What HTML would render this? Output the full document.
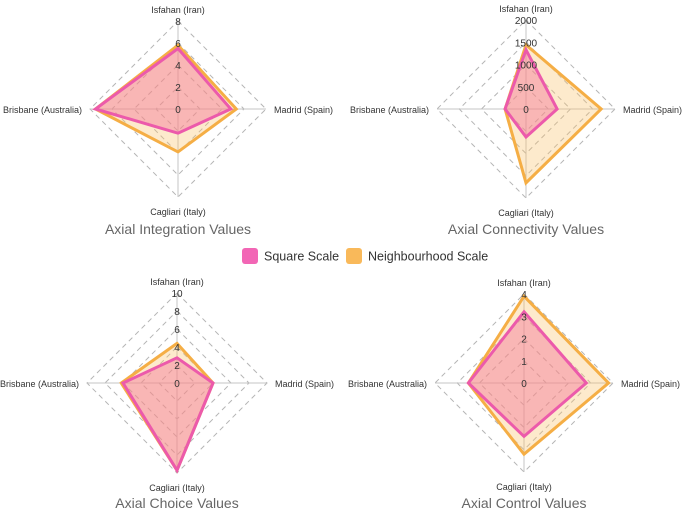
<!DOCTYPE html>
<html><head><meta charset="utf-8"><style>
html,body{margin:0;padding:0;background:#fff;}
svg{display:block;font-family:"Liberation Sans",sans-serif;}
</style></head><body>
<svg id="c" width="685" height="513" viewBox="0 0 685 513">
<g>
<g>
<rect x="242" y="248" width="16" height="16" rx="3" fill="#f266b5"/>
<text x="264" y="260.5" font-size="12.5" fill="#333">Square Scale</text></g>
<g>
<rect x="346" y="248" width="16" height="16" rx="3" fill="#f9b95a"/>
<text x="368" y="260.5" font-size="12.5" fill="#333">Neighbourhood Scale</text></g>
</g>
</svg>
<script>
const axes = ["Isfahan (Iran)","Madrid (Spain)","Cagliari (Italy)","Brisbane (Australia)"];
const titles = ["Axial Integration Values","Axial Connectivity Values","Axial Choice Values","Axial Control Values"];
const maxVals = [8,2000,10,4];
const ticks1 = [0,2,4,6,8];
const ticks2 = [0,500,1000,1500,2000];
const ticks3 = [0,2,4,6,8,10];
const ticks4 = [0,1,2,3,4];
const square1 = [5.5,4.8,2.2,7.5];
const neigh1 = [5.8,5.3,3.9,7.5];
const square2 = [1330,700,630,470];
const neigh2 = [1440,1690,1660,470];
const square3 = [2.8,4.0,9.7,6.0];
const neigh3 = [4.4,4.0,9.7,6.2];
const square4 = [3.2,2.8,2.4,2.5];
const neigh4 = [3.9,3.8,3.2,2.5];

const svg = document.getElementById('c');
const NS = "http://www.w3.org/2000/svg";
function mk(tag, attrs, parent){const e=document.createElementNS(NS,tag);for(const k in attrs)e.setAttribute(k,attrs[k]);parent.appendChild(e);return e;}
const dirs=[[0,-1],[1,0],[0,1],[-1,0]];
function pt(cx,cy,R,max,i,v){const r=v/max*R;return [cx+dirs[i][0]*r, cy+dirs[i][1]*r];}

const charts=[
 {cx:178,cy:109,R:88,max:maxVals[0],ticks:ticks1,sq:square1,nb:neigh1,title:titles[0],ty:234},
 {cx:526,cy:109,R:89,max:maxVals[1],ticks:ticks2,sq:square2,nb:neigh2,title:titles[1],ty:234},
 {cx:177,cy:383,R:90,max:maxVals[2],ticks:ticks3,sq:square3,nb:neigh3,title:titles[2],ty:508},
 {cx:524,cy:383,R:89,max:maxVals[3],ticks:ticks4,sq:square4,nb:neigh4,title:titles[3],ty:508}
];
charts.forEach((c,ci)=>{
 const g=mk('g',{},svg);
 
 
 c.ticks.forEach(t=>{ if(t===0) return;
  const p=[0,1,2,3].map(i=>pt(c.cx,c.cy,c.R,c.max,i,t).join(',')).join(' ');
  const ring=mk('polygon',{points:p,fill:'none',stroke:'#b5b5b5','stroke-width':1,'stroke-dasharray':'5,4'},g);
  
  
 });
 for(let i=0;i<4;i++){const e=pt(c.cx,c.cy,c.R,c.max,i,c.max);
  const ln=mk('line',{x1:c.cx,y1:c.cy,x2:e[0],y2:e[1],stroke:'#c4c4c4','stroke-width':1},g);
  
  
 }
 [[c.nb,'rgba(250,195,110,0.35)','#f5ae45','neighbourhood'],[c.sq,'rgba(242,110,150,0.42)','#ec5aab','square']].forEach(s=>{
  const p=s[0].map((v,i)=>pt(c.cx,c.cy,c.R,c.max,i,v).join(',')).join(' ');
  const poly=mk('polygon',{points:p,fill:s[1],stroke:s[2],'stroke-width':3,'stroke-linejoin':'miter'},g);
  
  
 });
 c.ticks.forEach(t=>{const p=pt(c.cx,c.cy,c.R,c.max,0,t);
  const tx=mk('text',{x:c.cx,y:p[1]+4,'font-size':10,'text-anchor':'middle',fill:'#333'},g);
  tx.textContent=t;
  
  
 });
 const lp=[[c.cx,c.cy-c.R-8,'middle'],[c.cx+c.R+8,c.cy+4,'start'],[c.cx,c.cy+c.R+18,'middle'],[c.cx-c.R-8,c.cy+4,'end']];
 axes.forEach((a,i)=>{
  const tx=mk('text',{x:lp[i][0],y:lp[i][1],'font-size':9,'text-anchor':lp[i][2],fill:'#333'},g);
  tx.textContent=a;
  
  
 });
 const tt=mk('text',{x:c.cx,y:c.ty,'font-size':14,'text-anchor':'middle',fill:'#666'},g);
 tt.textContent=c.title;
 
 
});
</script>
</body></html>
